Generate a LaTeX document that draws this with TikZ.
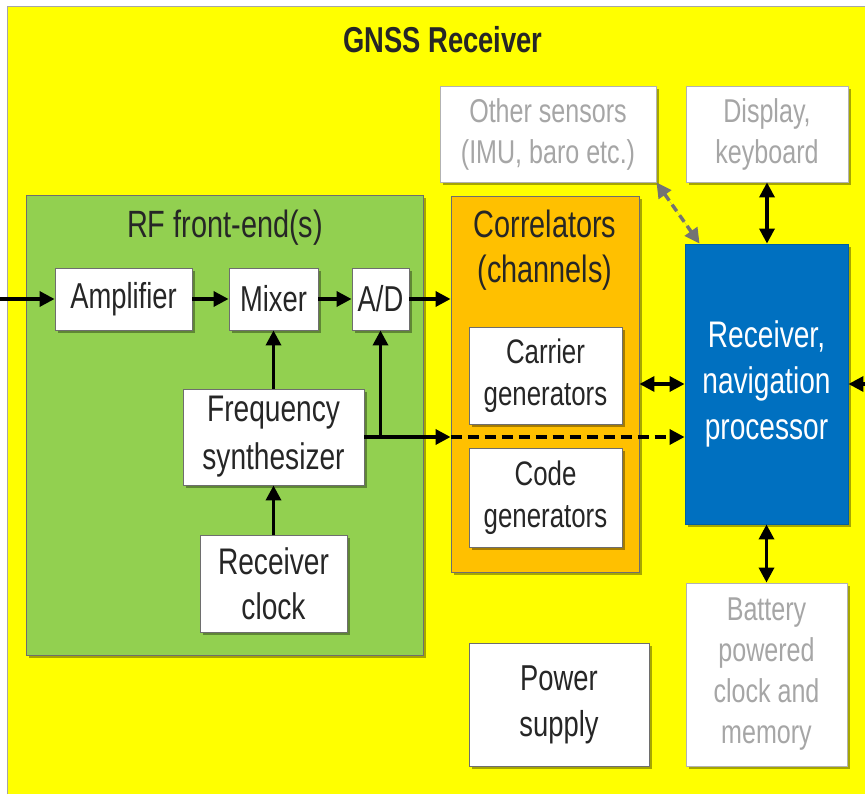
\documentclass[tikz,border=0pt]{standalone}
\usepackage{fontspec}
\setmainfont{Liberation Sans}[FakeStretch=0.76]
\usetikzlibrary{arrows.meta,shadows}
\definecolor{ylw}{HTML}{FFFF00}
\definecolor{grn}{HTML}{92D050}
\definecolor{org}{HTML}{FFC000}
\definecolor{blu}{HTML}{0070C0}
\definecolor{txt}{HTML}{262626}
\definecolor{gtxt}{HTML}{A6A6A6}
\definecolor{bord}{HTML}{6E6E6E}
\tikzset{
  shad/.style={drop shadow={shadow xshift=3pt,shadow yshift=-3pt,opacity=0.35,fill=black}},
  box/.style={draw=bord, fill=white, line width=0.9pt, shad, text=txt, align=center, inner sep=0pt,
    font=\fontsize{36}{46}\selectfont},
  gbox/.style={box, draw=gray!60, text=gtxt, font=\fontsize{33}{41}\selectfont},
  grp/.style={draw=bord, line width=0.9pt, shad, inner sep=0pt},
  lbl/.style={text=txt, align=center, inner sep=0pt, font=\fontsize{38}{45}\selectfont},
  tip/.tip={Triangle[length=15pt,width=15pt]},
  arr/.style={line width=3.4pt, -tip},
  darr/.style={line width=3.4pt, tip-tip},
}
\begin{document}
\begin{tikzpicture}[x=1pt,y=-1pt]
\useasboundingbox (0,0) rectangle (865,794);
\fill[white] (0,0) rectangle (865,794);
\draw[draw=gray!70, line width=1pt, fill=ylw] (7,7) rectangle (890,820);
\node[font=\bfseries\fontsize{36}{40}\selectfont, text=txt, inner sep=0pt] (title) at (443,40) {GNSS Receiver};

% RF front-end group
\node[grp, fill=grn, minimum width=397pt, minimum height=460pt] (rf) at (224.5,425) {};
\node[lbl] (rft) at (225,228) {RF front-end(s)};
\node[box, minimum width=137pt, minimum height=62pt] (amp) at (123.5,299) {Amplifier};
\node[box, minimum width=89pt, minimum height=62pt] (mix) at (273.5,299) {Mixer};
\node[box, minimum width=57pt, minimum height=62pt] (ad) at (380.5,299) {A/D};
\node[box, minimum width=181pt, minimum height=96pt, font=\fontsize{37}{48}\selectfont] (fs) at (273.5,437) {Frequency\\synthesizer};
\node[box, minimum width=147pt, minimum height=97pt, font=\fontsize{37}{45}\selectfont] (rc) at (273.5,583.5) {Receiver\\clock};

% Correlators group
\node[grp, fill=org, minimum width=188pt, minimum height=376pt] (cor) at (545,384) {};
\node[lbl] (cort) at (545,250) {Correlators\\(channels)};
\node[box, minimum width=153pt, minimum height=97pt, font=\fontsize{34}{42}\selectfont] (car) at (545.5,375.5) {Carrier\\generators};
\node[box, minimum width=153pt, minimum height=99pt, font=\fontsize{34}{42}\selectfont] (code) at (545.5,497.5) {Code\\generators};

% Processor
\node[draw=blu!85!black, line width=0.9pt, fill=blu, shad, minimum width=163pt, minimum height=280pt,
  text=white, align=center, inner sep=0pt, font=\fontsize{37}{46}\selectfont] (rnp) at (766.5,384)
  {Receiver,\\navigation\\processor};

% Peripherals
\node[gbox, minimum width=216pt, minimum height=96pt] (oth) at (548,134) {Other sensors\\(IMU, baro etc.)};
\node[gbox, minimum width=162pt, minimum height=96pt] (disp) at (767,134) {Display,\\keyboard};
\node[gbox, minimum width=161pt, minimum height=183pt] (bat) at (766.5,674.5) {Battery\\powered\\clock and\\memory};
\node[box, minimum width=180pt, minimum height=123pt] (pow) at (559,704.5) {Power\\supply};

% Connectors
\coordinate (rfin) at (0,299);
\draw[arr] (rfin) -- (amp.west);
\draw[arr] (amp.east) -- (mix.west);
\draw[arr] (mix.east) -- (ad.west);
\draw[arr] (ad.east) -- (ad.east -| cor.west);
\draw[arr] (fs.north) -- (mix.south);
\draw[arr] (rc.north) -- (fs.south);
\coordinate (br) at (ad.south |- fs.east);
\draw[arr] (br) -- (ad.south);
\coordinate (corin) at (cor.west |- fs.east);
\draw[arr] (fs.east) -- (corin);
\draw[arr, dash pattern=on 11pt off 6pt] (corin) -- (rnp.west |- corin);
\draw[darr] (cor.east |- rnp.west) -- (rnp.west);
\coordinate (rin) at (865,384);
\draw[arr] (rin) -- (rin -| rnp.east);
\coordinate (rnpn) at ([xshift=15pt]rnp.north west);
\draw[darr, draw=gray!90!black, fill=gray!90!black, dash pattern=on 8pt off 5pt] (oth.south east) -- (rnpn);
\draw[darr] (disp.south) -- (disp.south |- rnp.north);
\draw[darr] (rnp.south) -- (rnp.south |- bat.north);
\end{tikzpicture}
\end{document}
